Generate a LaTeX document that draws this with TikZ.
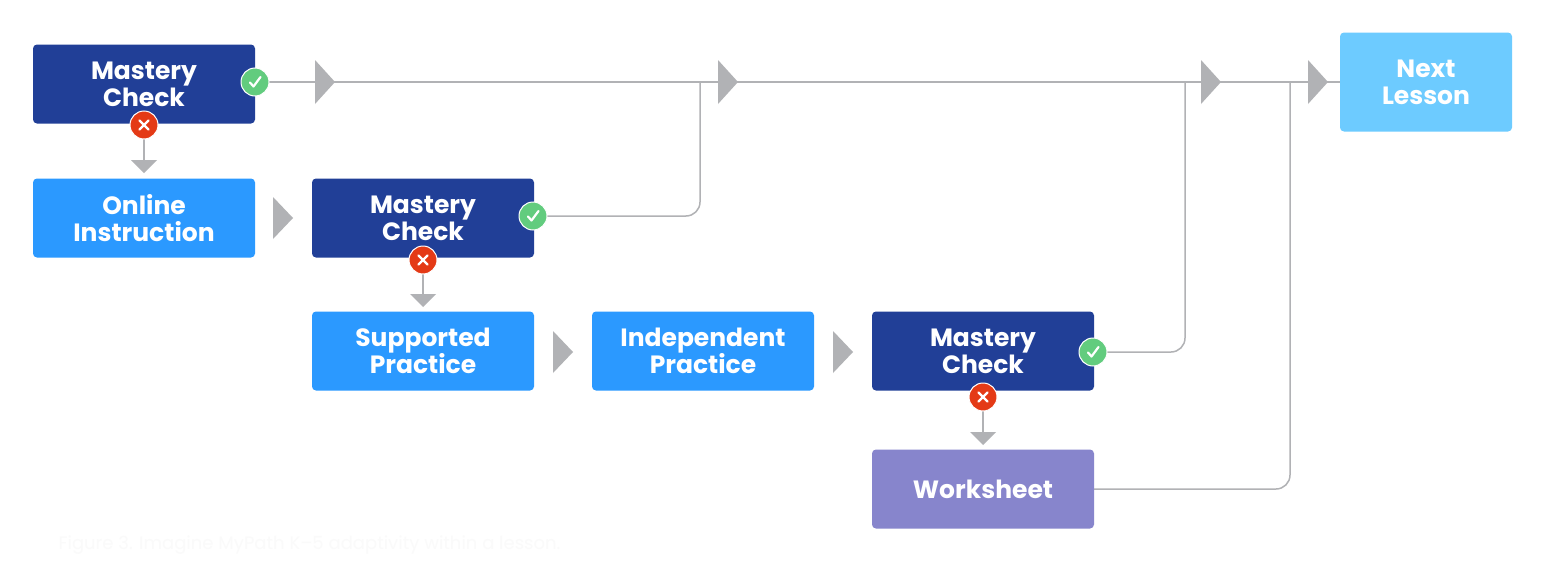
\documentclass[tikz,border=0pt]{standalone}
\usepackage{fontspec}
\setmainfont{Poppins}
\begin{document}
\definecolor{dk}{HTML}{213F97}
\definecolor{lb}{HTML}{2B99FF}
\definecolor{pu}{HTML}{8785CC}
\definecolor{nx}{HTML}{6DCBFF}
\definecolor{gr}{HTML}{B1B2B5}
\definecolor{ok}{HTML}{62CC7E}
\definecolor{no}{HTML}{E43A16}
\begin{tikzpicture}[x=1pt,y=-1pt,
 box/.style={rounded corners=4pt,minimum width=222pt,minimum height=79pt,text=white,align=center,font=\fontsize{25}{27}\selectfont\bfseries,inner sep=0pt},
 conn/.style={draw=gr,line width=1.5pt,rounded corners=14pt},
 glyph/.style={draw=white,line width=2.2pt,line cap=round,line join=round},
 okc/.style={circle,fill=ok,draw=white,line width=1pt,minimum size=28pt,inner sep=0pt},
 noc/.style={circle,fill=no,draw=white,line width=1pt,minimum size=28pt,inner sep=0pt}]
\useasboundingbox (0,0) rectangle (1542,570);
\fill[white] (0,0) rectangle (1542,570);
\node[font=\fontsize{18}{20}\selectfont,text=white!98!black,anchor=west] (cap) at (55,545) {Figure 3. Imagine MyPath K–5 adaptivity within a lesson.};
% connectors
\coordinate (t1) at (1340,82);
\draw[conn] (255,82) -- (t1);
\draw[conn] (547,216) -- (700,216) -- (700,82);
\draw[conn] (1107,352) -- (1185,352) -- (1185,82);
\draw[conn] (1093,489) -- (1290,489) -- (1290,82);
\draw[conn] (144,139) -- (144,162);
\draw[conn] (423,273) -- (423,296);
\draw[conn] (983,411) -- (983,434);
% triangles
\foreach \x in {315,718,1201,1308}{\fill[gr] (\x,60) -- (\x+20,82) -- (\x,104) -- cycle;}
\fill[gr] (273,197) -- (293,218) -- (273,239) -- cycle;
\fill[gr] (553,331) -- (573,352) -- (553,373) -- cycle;
\fill[gr] (833,331) -- (853,352) -- (833,373) -- cycle;
\foreach \x/\y in {144/160,423/294,983/432}{\fill[gr] (\x-13,\y) -- (\x+13,\y) -- (\x,\y+13) -- cycle;}
% boxes
\node[box,fill=dk] (mc1) at (144,84) {Mastery\\Check};
\node[box,fill=lb] (oi) at (144,218) {Online\\Instruction};
\node[box,fill=dk] (mc2) at (423,218) {Mastery\\Check};
\node[box,fill=lb] (sp) at (423,351) {Supported\\Practice};
\node[box,fill=lb] (ip) at (703,351) {Independent\\Practice};
\node[box,fill=dk] (mc3) at (983,351) {Mastery\\Check};
\node[box,fill=pu] (ws) at (983,489) {Worksheet};
\node[box,fill=nx,minimum width=172pt,minimum height=99pt] (nl) at (1426,82) {Next\\Lesson};
% badges
\foreach \n/\x/\y in {o1/255/82,o2/533/216,o3/1093/352}{
 \node[okc] (\n) at (\x,\y) {};
 \draw[glyph] ([shift={(-5,0.5)}]\n.center) -- ([shift={(-1.5,4.5)}]\n.center) -- ([shift={(5.5,-5)}]\n.center);}
\foreach \n/\x/\y in {n1/144/125,n2/423/260,n3/983/397}{
 \node[noc] (\n) at (\x,\y) {};
 \draw[glyph] ([shift={(-4.5,-4.5)}]\n.center) -- ([shift={(4.5,4.5)}]\n.center);
 \draw[glyph] ([shift={(-4.5,4.5)}]\n.center) -- ([shift={(4.5,-4.5)}]\n.center);}
\end{tikzpicture}
\end{document}
